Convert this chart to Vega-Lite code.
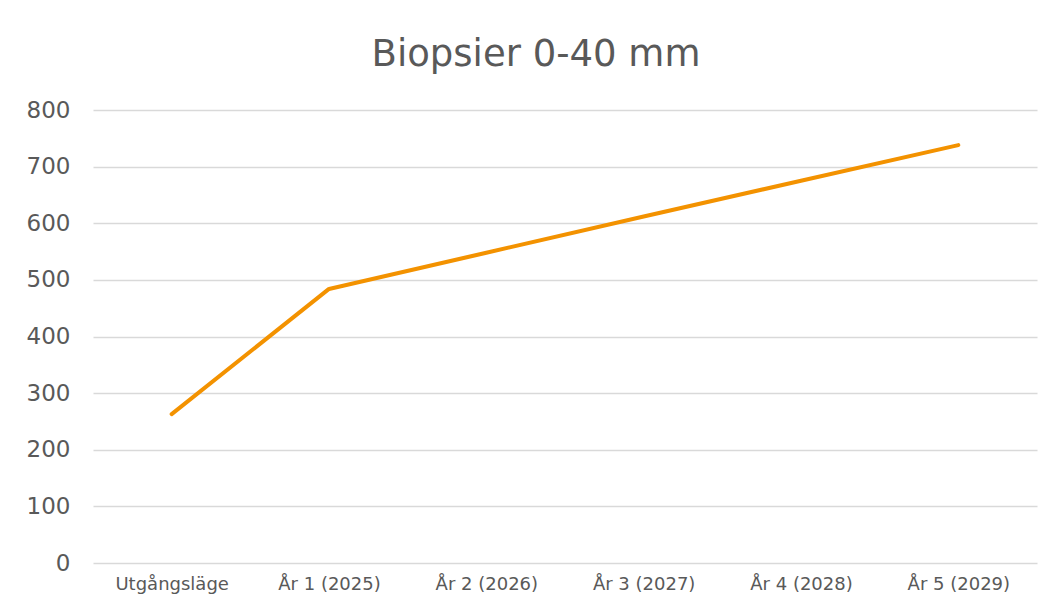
{
  "$schema": "https://vega.github.io/schema/vega-lite/v6.json",
  "width": 944,
  "height": 453,
  "autosize": {"type": "none"},
  "padding": {"left": 93, "top": 110, "right": 19, "bottom": 45},
  "background": "white",
  "config": {"view": {"stroke": null}, "font": "DejaVu Sans"},
  "title": {
    "text": "Biopsier 0-40 mm",
    "fontSize": 37,
    "font": "DejaVu Sans",
    "fontWeight": "normal",
    "color": "#595959",
    "anchor": "middle",
    "baseline": "alphabetic",
    "offset": 42,
    "dy": 46,
    "dx": -29
  },
  "data": {
    "values": [
      {"period": "Utgångsläge", "value": 263},
      {"period": "År 1 (2025)", "value": 484},
      {"period": "År 2 (2026)", "value": 548},
      {"period": "År 3 (2027)", "value": 612},
      {"period": "År 4 (2028)", "value": 675},
      {"period": "År 5 (2029)", "value": 738}
    ]
  },
  "mark": {"type": "line", "color": "#F39200", "strokeWidth": 4, "strokeCap": "round", "strokeJoin": "round"},
  "encoding": {
    "x": {
      "field": "period",
      "type": "nominal",
      "sort": null,
      "title": null,
      "axis": {
        "labelAngle": 0,
        "labelFontSize": 18,
        "labelColor": "#595959",
        "labelFont": "DejaVu Sans",
        "labelPadding": 12,
        "domain": false,
        "ticks": false,
        "grid": false
      }
    },
    "y": {
      "field": "value",
      "type": "quantitative",
      "title": null,
      "scale": {"domain": [0, 800], "nice": false},
      "axis": {
        "values": [0, 100, 200, 300, 400, 500, 600, 700, 800],
        "labelFontSize": 23,
        "labelColor": "#595959",
        "labelFont": "DejaVu Sans",
        "labelPadding": 23,
        "domain": false,
        "ticks": false,
        "grid": true,
        "gridColor": "#d9d9d9",
        "gridWidth": 1.5
      }
    }
  }
}
